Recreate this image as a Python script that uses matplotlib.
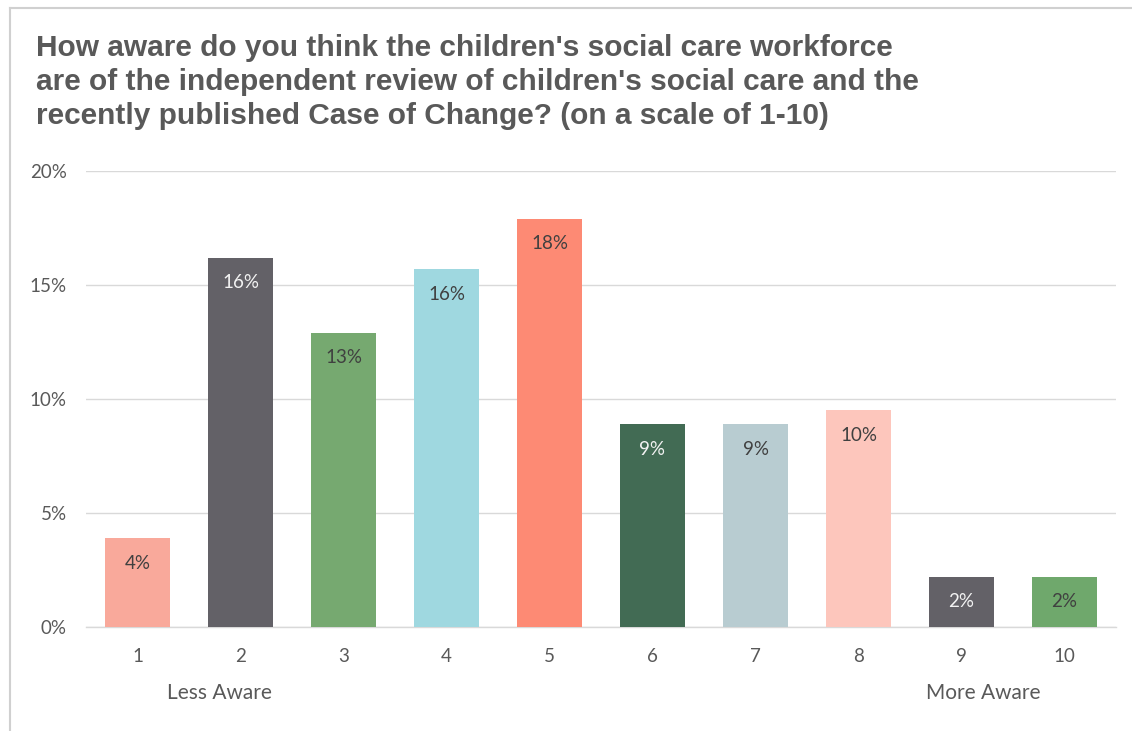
import numpy as np
import matplotlib
matplotlib.use("Agg")
import matplotlib.pyplot as plt
from matplotlib.lines import Line2D
from matplotlib.ticker import FuncFormatter

# awareness scores (1-10) and share of respondents, %
scores = ["1", "2", "3", "4", "5", "6", "7", "8", "9", "10"]
shares = [3.9, 16.2, 12.9, 15.7, 17.9, 8.9, 8.9, 9.5, 2.2, 2.2]
bar_colors = ["#F9A99B", "#636167", "#76A970", "#9FD8E0", "#FD8A74",
              "#426B54", "#B8CCD1", "#FDC6BC", "#636167", "#6FA86C"]
label_colors = ["#404040", "#F2F2F2", "#404040", "#404040", "#404040",
                "#F2F2F2", "#404040", "#404040", "#F2F2F2", "#404040"]
yticks = [0, 5, 10, 15, 20]

title = ("How aware do you think the children's social care workforce\n"
         "are of the independent review of children's social care and the\n"
         "recently published Case of Change? (on a scale of 1-10)")

txt = "#595959"
lw = 1
fs = 13.5

fig = plt.figure(figsize=(11.32, 7.31), dpi=100)
fig.patch.set_facecolor("white")
ax = fig.add_axes([86/1132, 1 - 627/731, 1030/1132, 456/731])

x = np.arange(len(scores))
bars = ax.bar(x, shares, width=0.64, color=bar_colors, zorder=3)

for b, v, c in zip(bars, shares, label_colors):
    ax.text(b.get_x() + b.get_width()/2, v - 1.1, "%d%%" % round(v),
            ha="center", va="center", fontsize=fs, color=c,
            family="Lato", zorder=4)

ax.set_xlim(-0.5, len(scores) - 0.5)
ax.set_ylim(0, 20)
ax.set_xticks(x)
ax.set_xticklabels(scores)
ax.set_yticks(yticks)
ax.yaxis.set_major_formatter(FuncFormatter(lambda v, p: "%d%%" % v))
ax.tick_params(length=0, labelsize=fs, labelcolor=txt)
ax.tick_params(axis="x", pad=15)
ax.tick_params(axis="y", pad=14)
for lab in ax.get_xticklabels() + ax.get_yticklabels():
    lab.set_family("Lato")

ax.grid(axis="y", color="#D9D9D9", linewidth=lw, zorder=0)
for s in ["top", "right", "left"]:
    ax.spines[s].set_visible(False)
ax.spines["bottom"].set_color("#D9D9D9")
ax.spines["bottom"].set_linewidth(lw)

# end labels of the scale
trans = ax.get_xaxis_transform()
ax.text(0.80, -0.145, "Less Aware", transform=trans, ha="center", va="center",
        fontsize=15, color=txt, family="Lato")
ax.text(8.21, -0.145, "More Aware", transform=trans, ha="center", va="center",
        fontsize=15, color=txt, family="Lato")

fig.text(36/1132, 1 - 34/731, title, ha="left", va="top", fontsize=21.5,
         fontweight="bold", color=txt, family="Liberation Sans",
         linespacing=1.27)

# thin frame around the chart area
fig.add_artist(Line2D([10/1132, 1], [1 - 8/731, 1 - 8/731],
                      color="#D0D0D0", linewidth=1.5))
fig.add_artist(Line2D([10/1132, 10/1132], [0, 1 - 8/731],
                      color="#D0D0D0", linewidth=1.5))

plt.savefig("out.png", dpi=100)
plt.close()
